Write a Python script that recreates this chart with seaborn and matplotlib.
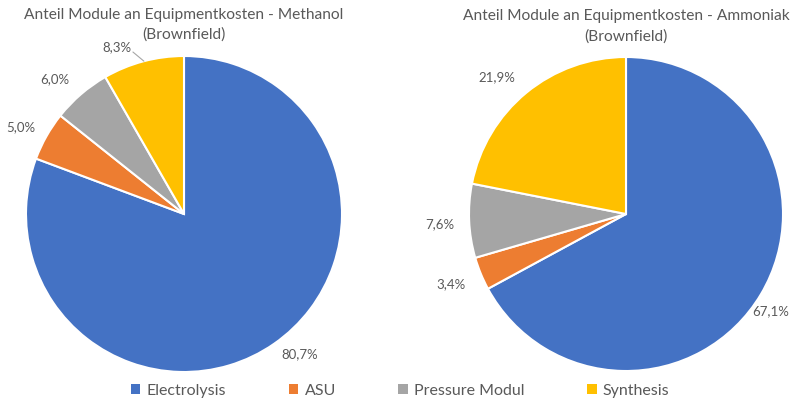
import numpy as np
import matplotlib
matplotlib.use("Agg")
import matplotlib.pyplot as plt
import seaborn as sns
from matplotlib.patches import Patch

# Daten
module = ['Electrolysis', 'ASU', 'Pressure Modul', 'Synthesis']
methanol = [80.7, 5.0, 6.0, 8.3]
ammoniak = [67.1, 3.4, 7.6, 21.9]
titel = [('Anteil Module an Equipmentkosten - Methanol', '(Brownfield)'),
         ('Anteil Module an Equipmentkosten - Ammoniak', '(Brownfield)')]

sns.set_style('white')
plt.rcParams['font.family'] = ['Lato', 'DejaVu Sans']
farben = ['#4472C4', '#ED7D31', '#A5A5A5', '#FFC000']
grau = '#595959'

fig = plt.figure(figsize=(8.1, 4), dpi=100)

# Achsen so setzen, dass die Kreise wie im Original liegen
ax1 = fig.add_axes([26 / 810, 28 / 400, 316 / 810, 316 / 400])
ax2 = fig.add_axes([469 / 810, 29 / 400, 314 / 810, 314 / 400])

# Feinjustierung der Beschriftungen (Excel "beste Anpassung")
verschiebung = [
    [(5, 1.15), (1.5, 1.17), (3, 1.18), (7, 1.14)],
    [(-3, 1.11), (-0.5, 1.2), (0.5, 1.19), (4, 1.2)],
]

for ax, werte, t, versch in zip([ax1, ax2], [methanol, ammoniak], titel, verschiebung):
    wedges, _ = ax.pie(werte, colors=farben, startangle=90, counterclock=False,
                       wedgeprops=dict(edgecolor='white', linewidth=1.5), radius=1)
    for i, (w, v) in enumerate(zip(wedges, werte)):
        mitte = (w.theta1 + w.theta2) / 2 + versch[i][0]
        r = versch[i][1]
        x, y = r * np.cos(np.radians(mitte)), r * np.sin(np.radians(mitte))
        txt = f'{v:.1f}%'.replace('.', ',')
        ax.text(x, y, txt, ha='center', va='center', fontsize=9.5, color=grau)
    ax.set_xlim(-1, 1)
    ax.set_ylim(-1, 1)
    ax.set_aspect('equal')
    ax.axis('off')
    # Titel zweizeilig, jede Zeile einzeln
    ax.text(0, 1.0 + 41 / 158, t[0], ha='center', va='center', fontsize=11.2, color=grau)
    ax.text(0, 1.0 + 21 / 158, t[1], ha='center', va='center', fontsize=11.2, color=grau)

# Führungslinie für 8,3 %
a = np.radians(104.7)
b = np.radians(107.5)
ax1.annotate('', xy=(1.0 * np.cos(a), 1.0 * np.sin(a)),
             xytext=(1.075 * np.cos(b), 1.075 * np.sin(b)),
             arrowprops=dict(arrowstyle='-', color='#A6A6A6', lw=0.8,
                             shrinkA=0, shrinkB=0),
             annotation_clip=False)

handles = [Patch(facecolor=c, edgecolor='none') for c in farben]
fig.legend(handles, module, loc='lower center', ncol=4, frameon=False,
           bbox_to_anchor=(0.494, -0.03), fontsize=11.5, handlelength=0.6,
           handleheight=0.6, handletextpad=0.4, columnspacing=3.9,
           labelcolor=grau)

plt.savefig('out.png', dpi=100)
